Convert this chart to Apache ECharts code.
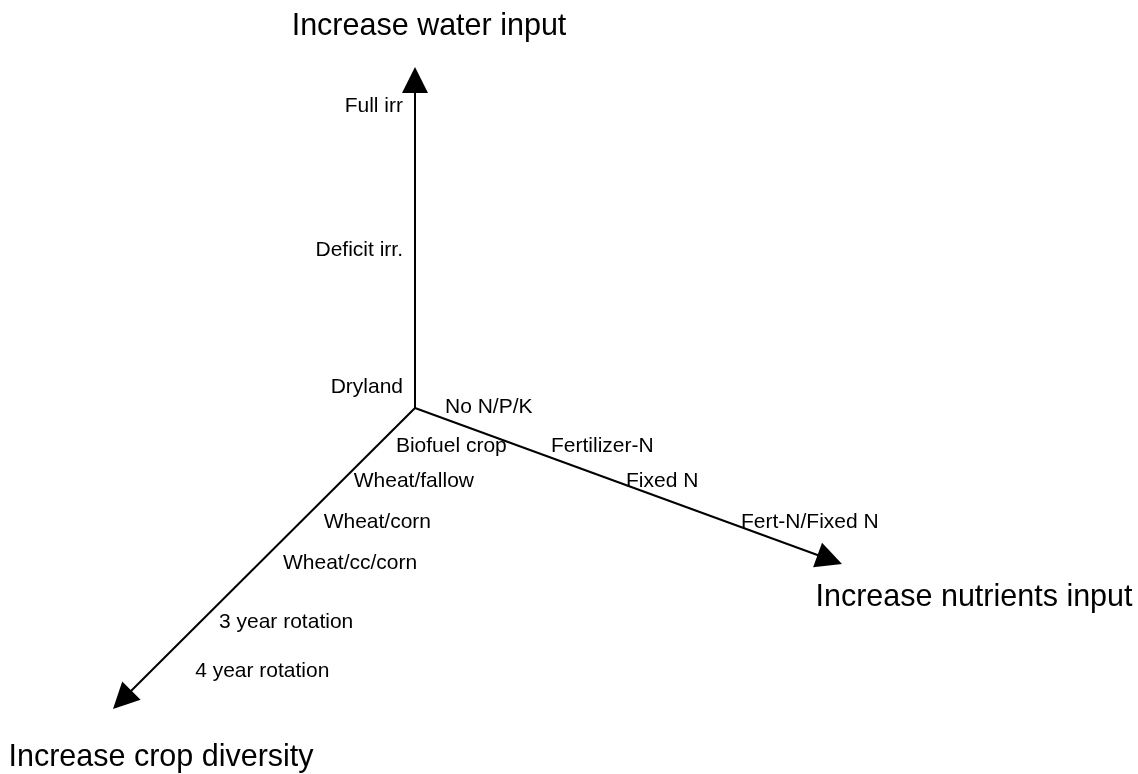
<!DOCTYPE html>
<html>
<head>
<meta charset="utf-8">
<script src="https://cdn.jsdelivr.net/npm/echarts@6/dist/echarts.min.js"></script>
<style>
html,body{margin:0;padding:0;background:#fff;}
#chart{width:1138px;height:774px;}
</style>
</head>
<body>
<div id="chart"></div>
<script>
// ---- data (text content of the diagram) ----
const axisTitles = ['Increase water input', 'Increase nutrients input', 'Increase crop diversity'];
const waterLevels = ['Dryland', 'Deficit irr.', 'Full irr'];
const nutrientLevels = ['No N/P/K', 'Fertilizer-N', 'Fixed N', 'Fert-N/Fixed N'];
const diversityLevels = ['Biofuel crop', 'Wheat/fallow', 'Wheat/corn', 'Wheat/cc/corn', '3 year rotation', '4 year rotation'];

// ---- layout (positions in the hidden pixel-like cartesian frame) ----
const origin = [415, 408];
const tips = [[415, 67], [842, 564], [113, 709]];
// fraction along each axis where each level sits
const waterT = [0.067, 0.469, 0.891];
const nutrientT = [0.0703, 0.3185, 0.4941, 0.7635];
const diversityT = [0.1196, 0.2359, 0.3721, 0.5083, 0.7043, 0.8671];
// label offsets from the axis point
const waterOff = [[-12, 2], [-12, 2], [-12, 2]];
const nutrientOff = [[0, -12], [0, -11.5], [0, -3.5], [0, -4.5]];
const diversityOff = [[17, 2], [10, 2], [21, 2], [21.5, 2], [16.7, 2], [42, 2]];
const titleOff = [[14, -40], [132, 34], [48, 49]];
const headSize = [25, 26];

const FONT = 'Liberation Sans, Arial, Helvetica, sans-serif';

function pointOn(i, t) {
  return [origin[0] + t * (tips[i][0] - origin[0]), origin[1] + t * (tips[i][1] - origin[1])];
}

// arrows: line ends at triangle centre so that triangle tip lands on the axis tip
const arrowData = tips.map(function (tip) {
  const dx = tip[0] - origin[0], dy = tip[1] - origin[1];
  const len = Math.sqrt(dx * dx + dy * dy);
  const end = [tip[0] - dx / len * headSize[1] / 2, tip[1] - dy / len * headSize[1] / 2];
  return { coords: [origin.slice(), end] };
});

function levelItems(axisIdx, levels, ts, offs, align) {
  return levels.map(function (name, k) {
    const p = pointOn(axisIdx, ts[k]);
    return {
      name: name,
      value: [p[0] + offs[k][0], p[1] + offs[k][1]],
      label: { align: align }
    };
  });
}

const smallLabels = []
  .concat(levelItems(0, waterLevels, waterT, waterOff, 'right'))
  .concat(levelItems(1, nutrientLevels, nutrientT, nutrientOff, 'left'))
  .concat(levelItems(2, diversityLevels, diversityT, diversityOff, 'left'));

const titleItems = axisTitles.map(function (name, i) {
  return { name: name, value: [tips[i][0] + titleOff[i][0], tips[i][1] + titleOff[i][1]] };
});

const chart = echarts.init(document.getElementById('chart'), null, { renderer: 'canvas' });
chart.setOption({
  animation: false,
  backgroundColor: '#ffffff',
  grid: { left: 0, right: 0, top: 0, bottom: 0 },
  xAxis: { type: 'value', min: 0, max: 1138, show: false },
  yAxis: { type: 'value', min: 0, max: 774, inverse: true, show: false },
  series: [
    {
      type: 'lines',
      coordinateSystem: 'cartesian2d',
      data: arrowData,
      symbol: ['none', 'triangle'],
      symbolSize: headSize,
      lineStyle: { color: '#000', width: 2, opacity: 1, curveness: 0 },
      itemStyle: { color: '#000' },
      silent: true,
      z: 2
    },
    {
      type: 'scatter',
      data: smallLabels,
      symbolSize: 0,
      silent: true,
      label: {
        show: true,
        formatter: '{b}',
        position: [0, 0],
        verticalAlign: 'middle',
        color: '#000000',
        opacity: 1,
        fontSize: 21,
        fontFamily: FONT
      },
      z: 3
    },
    {
      type: 'scatter',
      data: titleItems,
      symbolSize: 0,
      silent: true,
      label: {
        show: true,
        formatter: '{b}',
        position: [0, 0],
        align: 'center',
        verticalAlign: 'middle',
        color: '#000000',
        opacity: 1,
        fontSize: 30.5,
        fontFamily: FONT
      },
      z: 3
    }
  ]
});
</script>
</body>
</html>
